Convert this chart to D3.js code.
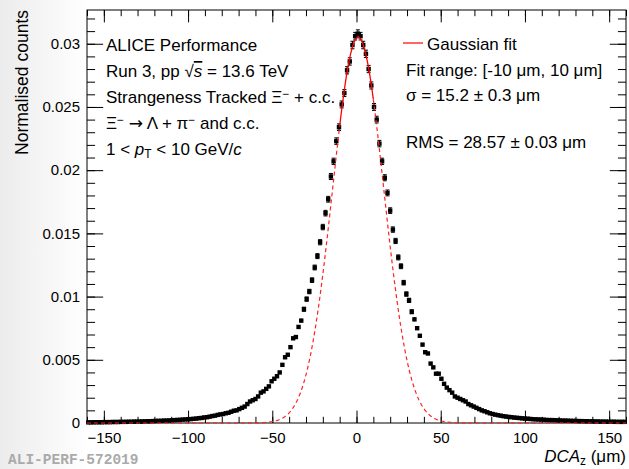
<!DOCTYPE html>
<html>
<head>
<meta charset="utf-8">
<script src="https://cdn.jsdelivr.net/npm/d3@7"></script>
<style>
  html, body { margin: 0; padding: 0; background: #fff; }
  svg { display: block; }
  .lbl { font-family: "Liberation Sans", Arial, sans-serif; fill: #000; }
</style>
</head>
<body>
<div id="chart"></div>
<script>
// --------- DATA ---------

// histogram binning: 200 bins of 1.6 um from -160 to 160
const binLow = -160, binWidth = 1.6;

// normalised counts, bins -159.2 ... -0.8
const countsNeg = [
    0.00005, 0.00005, 0.00006, 0.00006, 0.00006, 0.00006, 0.00007, 0.00007, 0.00007, 0.00008,
    0.00008, 0.00008, 0.00009, 0.00009, 0.00009, 0.00010, 0.00010, 0.00011, 0.00011, 0.00012,
    0.00012, 0.00013, 0.00014, 0.00014, 0.00015, 0.00016, 0.00017, 0.00017, 0.00019, 0.00019,
    0.00020, 0.00021, 0.00023, 0.00024, 0.00025, 0.00027, 0.00028, 0.00030, 0.00031, 0.00033,
    0.00035, 0.00038, 0.00040, 0.00044, 0.00046, 0.00050, 0.00055, 0.00058, 0.00064, 0.00068,
    0.00071, 0.00077, 0.00081, 0.00089, 0.00097, 0.0010, 0.0011, 0.0012, 0.0013, 0.0015,
    0.0017, 0.0018, 0.0019, 0.0021, 0.0024, 0.0025, 0.0027, 0.0029, 0.0033, 0.0035,
    0.0037, 0.0040, 0.0046, 0.0052, 0.0054, 0.0060, 0.0067, 0.0068, 0.0076, 0.0081,
    0.0090, 0.0098, 0.0104, 0.0113, 0.0123, 0.0132, 0.0143, 0.0155, 0.0166, 0.0177,
    0.0195, 0.0207, 0.0223, 0.0234, 0.0252, 0.0261, 0.0279, 0.0286, 0.0299, 0.0306
];

// normalised counts, bins 0.8 ... 159.2
const countsPos = [
    0.0308, 0.0306, 0.0299, 0.0292, 0.0280, 0.0267, 0.0250, 0.0240, 0.0221, 0.0207,
    0.0194, 0.0182, 0.0168, 0.0153, 0.0144, 0.0131, 0.0124, 0.0111, 0.0102, 0.0097,
    0.0088, 0.0082, 0.0075, 0.0069, 0.0062, 0.0056, 0.0055, 0.0047, 0.0044, 0.0039,
    0.0039, 0.0035, 0.0031, 0.0028, 0.0026, 0.0024, 0.0021, 0.0020, 0.0019, 0.0018,
    0.0017, 0.0015, 0.0014, 0.0013, 0.0012, 0.0011, 0.0010, 0.00093, 0.00085, 0.00077,
    0.00071, 0.00066, 0.00062, 0.00058, 0.00054, 0.00051, 0.00048, 0.00046, 0.00043, 0.00041,
    0.00039, 0.00037, 0.00035, 0.00034, 0.00032, 0.00030, 0.00029, 0.00028, 0.00027, 0.00026,
    0.00024, 0.00023, 0.00023, 0.00022, 0.00021, 0.00020, 0.00019, 0.00019, 0.00018, 0.00017,
    0.00017, 0.00016, 0.00015, 0.00015, 0.00014, 0.00014, 0.00013, 0.00013, 0.00012, 0.00012,
    0.00011, 0.00011, 0.00011, 0.00010, 0.00010, 0.00010, 0.00009, 0.00009, 0.00009, 0.00009
];

const nEntries = 340000;

// gaussian fit result
const fitAmp = 0.0305, fitMean = 1.0, fitSigma = 15.2;
const fitRange = [-10, 10];

// axes
const xDomain = [-160, 160];
const yDomain = [0, 0.03267];
const xTicks = [-150, -100, -50, 0, 50, 100, 150];
const xTickLabels = ["\u2212150", "\u2212100", "\u221250", "0", "50", "100", "150"];
const yTicks = [0, 0.005, 0.01, 0.015, 0.02, 0.025, 0.03];
const yTickLabels = ["0", "0.005", "0.01", "0.015", "0.02", "0.025", "0.03"];

// --------- DRAWING ---------

const W = 629, H = 469;
const frame = {left: 87, right: 626, top: 10, bottom: 423};

let svg = d3.select("#chart").append("svg")
    .attr("width", W).attr("height", H);

// faint slide background on the left
let defs = svg.append("defs");
let grad = defs.append("linearGradient").attr("id", "bg")
    .attr("x1", 0).attr("x2", 1).attr("y1", 0).attr("y2", 0);
grad.append("stop").attr("offset", "0%").attr("stop-color", "#ececec");
grad.append("stop").attr("offset", "14%").attr("stop-color", "#ffffff");
svg.append("rect").attr("width", W).attr("height", H).attr("fill", "url(#bg)");
svg.append("rect")
    .attr("x", frame.left).attr("y", frame.top)
    .attr("width", frame.right - frame.left).attr("height", frame.bottom - frame.top)
    .attr("fill", "#fff");

let x = d3.scaleLinear().domain(xDomain).range([frame.left, frame.right]);
let y = d3.scaleLinear().domain(yDomain).range([frame.bottom, frame.top]);

const tickX = 0.03 * (frame.bottom - frame.top);   // ROOT style tick lengths
const tickY = 0.03 * (frame.right - frame.left);

function styleAxis(g) {
    g.select(".domain").remove();
    g.selectAll(".tick line").attr("stroke", "#000").attr("stroke-width", 1);
    g.selectAll(".tick text")
        .attr("font-family", "Liberation Sans, Arial, sans-serif")
        .attr("font-size", 15).attr("fill", "#000");
}

let xMinor = d3.range(-160, 161, 10);
let yMinor = d3.range(0, 0.0326, 0.001);

// bottom axis
svg.append("g").attr("transform", `translate(0,${frame.bottom})`)
    .call(d3.axisBottom(x).tickValues(xMinor).tickSize(-tickX / 2).tickFormat(""))
    .call(styleAxis);
svg.append("g").attr("transform", `translate(0,${frame.bottom})`)
    .call(d3.axisBottom(x).tickValues(xTicks).tickSize(-tickX).tickPadding(9)
        .tickFormat((d, i) => xTickLabels[i]))
    .call(styleAxis);

// top axis
svg.append("g").attr("transform", `translate(0,${frame.top})`)
    .call(d3.axisTop(x).tickValues(xMinor).tickSize(-tickX / 2).tickFormat(""))
    .call(styleAxis);
svg.append("g").attr("transform", `translate(0,${frame.top})`)
    .call(d3.axisTop(x).tickValues(xTicks).tickSize(-tickX).tickFormat(""))
    .call(styleAxis);

// left axis
svg.append("g").attr("transform", `translate(${frame.left},0)`)
    .call(d3.axisLeft(y).tickValues(yMinor).tickSize(-tickY / 2).tickFormat(""))
    .call(styleAxis);
svg.append("g").attr("transform", `translate(${frame.left},0)`)
    .call(d3.axisLeft(y).tickValues(yTicks).tickSize(-tickY).tickPadding(7)
        .tickFormat((d, i) => yTickLabels[i]))
    .call(styleAxis);

// right axis
svg.append("g").attr("transform", `translate(${frame.right},0)`)
    .call(d3.axisRight(y).tickValues(yMinor).tickSize(-tickY / 2).tickFormat(""))
    .call(styleAxis);
svg.append("g").attr("transform", `translate(${frame.right},0)`)
    .call(d3.axisRight(y).tickValues(yTicks).tickSize(-tickY).tickFormat(""))
    .call(styleAxis);

// frame
svg.append("rect")
    .attr("x", frame.left).attr("y", frame.top)
    .attr("width", frame.right - frame.left).attr("height", frame.bottom - frame.top)
    .attr("fill", "none").attr("stroke", "#000").attr("stroke-width", 1);

// data points
let data = countsNeg.concat(countsPos).map((v, i) => ({
    x: binLow + (i + 0.5) * binWidth,
    v: v,
    err: Math.sqrt(v / nEntries)
}));

let pts = svg.append("g");
pts.selectAll("line.h").data(data).enter().append("line")
    .attr("x1", d => x(d.x - binWidth / 2)).attr("x2", d => x(d.x + binWidth / 2))
    .attr("y1", d => y(d.v)).attr("y2", d => y(d.v))
    .attr("stroke", "#000").attr("stroke-width", 1);
pts.selectAll("line.v").data(data).enter().append("line")
    .attr("x1", d => x(d.x)).attr("x2", d => x(d.x))
    .attr("y1", d => y(d.v - d.err)).attr("y2", d => y(d.v + d.err))
    .attr("stroke", "#000").attr("stroke-width", 1);
pts.selectAll("path.cap").data(data.filter(d => y(d.v - d.err) - y(d.v + d.err) > 4)).enter()
    .append("path")
    .attr("d", d => `M${x(d.x) - 2},${y(d.v + d.err)}h4M${x(d.x) - 2},${y(d.v - d.err)}h4`)
    .attr("stroke", "#000").attr("stroke-width", 1).attr("fill", "none");
pts.selectAll("rect").data(data).enter().append("rect")
    .attr("x", d => x(d.x) - 2.2).attr("y", d => y(d.v) - 2.2)
    .attr("width", 4.4).attr("height", 4.4)
    .attr("fill", "#000");

// gaussian fit: solid inside the fit range, dashed outside
function gaus(t) {
    return fitAmp * Math.exp(-0.5 * Math.pow((t - fitMean) / fitSigma, 2));
}
let line = d3.line().x(d => x(d)).y(d => y(gaus(d)));
let fitG = svg.append("g");
fitG.append("path")
    .attr("d", line(d3.range(xDomain[0], fitRange[0] + 0.01, 0.5)))
    .attr("fill", "none").attr("stroke", "#f22").attr("stroke-width", 1.2)
    .attr("stroke-dasharray", "4,3");
fitG.append("path")
    .attr("d", line(d3.range(fitRange[1], xDomain[1] + 0.01, 0.5)))
    .attr("fill", "none").attr("stroke", "#f22").attr("stroke-width", 1.2)
    .attr("stroke-dasharray", "4,3");
fitG.append("path")
    .attr("d", line(d3.range(fitRange[0], fitRange[1] + 0.01, 0.25)))
    .attr("fill", "none").attr("stroke", "#f00").attr("stroke-width", 1.3);

// --------- TEXT ---------

function addText(xp, yp, parts, size, anchor) {
    let t = svg.append("text").attr("class", "lbl")
        .attr("x", xp).attr("y", yp).attr("font-size", size)
        .attr("text-anchor", anchor || "start");
    parts.forEach(p => {
        if (typeof p === "string") p = {t: p};
        let s = t.append("tspan").text(p.t);
        if (p.i) s.attr("font-style", "italic");
        if (p.o) s.attr("text-decoration", "overline");
        if (p.f) s.attr("font-family", p.f);
        if (p.sup) s.attr("baseline-shift", "40%").attr("font-size", size * 0.7);
        if (p.sub) s.attr("baseline-shift", "-25%").attr("font-size", size * 0.7);
    });
    return t;
}

const fs = 17;
addText(106, 51, ["ALICE Performance"], fs);
addText(106, 77, ["Run 3, pp  \u221A", {t: "s", i: 1, o: 1}, " = 13.6 TeV"], fs);
addText(106, 103, ["Strangeness Tracked \u039E", {t: "\u2212", sup: 1}, " + c.c."], fs);
addText(106, 129, ["\u039E", {t: "\u2212", sup: 1}, " ", {t: "\u2192", f: "DejaVu Sans"}, " \u039B + \u03C0", {t: "\u2212", sup: 1}, " and c.c."], fs);
addText(106, 155, ["1 < ", {t: "p", i: 1}, {t: "T", sub: 1}, " < 10 GeV/", {t: "c", i: 1}], fs);

svg.append("line")
    .attr("x1", 403).attr("x2", 423).attr("y1", 43).attr("y2", 43)
    .attr("stroke", "#f33").attr("stroke-width", 1.5);
addText(427, 50, ["Gaussian fit"], fs);
addText(406, 76, ["Fit range: [-10 \u03BCm, 10 \u03BCm]"], fs);
addText(406, 101, ["\u03C3 = 15.2 \u00B1 0.3 \u03BCm"], fs);
addText(406, 148, ["RMS = 28.57 \u00B1 0.03 \u03BCm"], fs);

// axis titles
svg.append("text").attr("class", "lbl")
    .attr("transform", "translate(28,10) rotate(-90)")
    .attr("text-anchor", "end").attr("font-size", 17.5)
    .text("Normalised counts");
addText(626, 462, [{t: "DCA", i: 1}, {t: "z", sub: 1}, " (\u03BCm)"], 17, "end");

svg.append("text")
    .attr("x", 8).attr("y", 464)
    .attr("font-family", "Liberation Mono, Courier New, monospace")
    .attr("font-weight", "bold").attr("font-size", 14.5)
    .attr("fill", "#aaa")
    .text("ALI-PERF-572019");
</script>
</body>
</html>
